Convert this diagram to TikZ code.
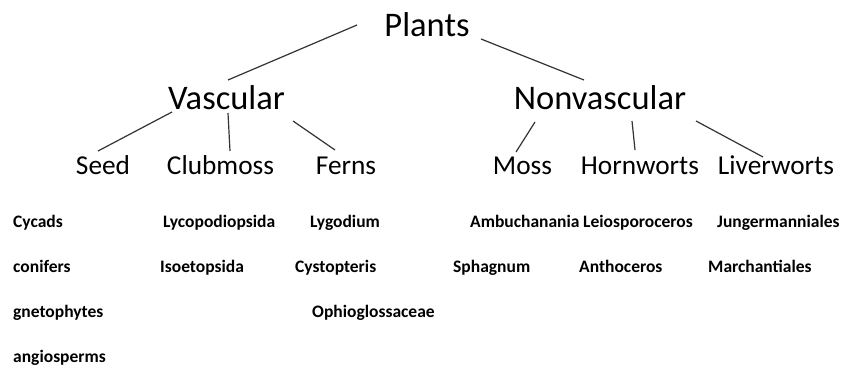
\documentclass[tikz,border=0pt]{standalone}
\usepackage{fontspec}
\setmainfont{Carlito}
\usetikzlibrary{calc}
\begin{document}
\begin{tikzpicture}[x=1pt,y=-1pt,
  h1/.style={anchor=base,inner sep=0pt,font=\fontsize{34.5}{40}\selectfont},
  h2/.style={anchor=base,inner sep=0pt,font=\fontsize{27.3}{32}\selectfont},
  leaf/.style={anchor=base west,inner sep=0pt,font=\bfseries\fontsize{17.5}{20}\selectfont},
  link/.style={draw=black!80,line width=1.2pt}]
\useasboundingbox[fill=white] (0,0) rectangle (842,371);
\node[h1] (plants) at (427,37) {Plants};
\node[h1] (vasc) at (226.5,110) {Vascular};
\node[h1] (nonv) at (600,110) {Nonvascular};
\node[h2] (seed) at (103,175) {Seed};
\node[h2] (club) at (220.5,175) {Clubmoss};
\node[h2] (ferns) at (346,175) {Ferns};
\node[h2] (moss) at (522.5,175) {Moss};
\node[h2] (horn) at (640,175) {Hornworts};
\node[h2] (liver) at (776,175) {Liverworts};
\draw[link] ($(plants.base)+(-70,-12)$) -- ($(vasc.base)+(1.5,-30)$);
\draw[link] ($(plants.base)+(54,2)$) -- ($(nonv.base)+(-16,-30)$);
\draw[link] ($(vasc.base)+(-54.5,2)$) -- ($(seed.base)+(-5,-24)$);
\draw[link] ($(vasc.base)+(1.5,3)$) -- ($(club.base)+(9.5,-24)$);
\draw[link] ($(vasc.base)+(66.5,11)$) -- ($(ferns.base)+(-11,-25)$);
\draw[link] ($(nonv.base)+(-65,12)$) -- ($(moss.base)+(-6.5,-23)$);
\draw[link] ($(nonv.base)+(32,11)$) -- ($(horn.base)+(-5,-25)$);
\draw[link] ($(nonv.base)+(96,11)$) -- ($(liver.base)+(-13,-18)$);
\node[leaf] (cycads) at (13,228) {Cycads};
\node[leaf] (lyco) at (163,228) {Lycopodiopsida};
\node[leaf] (lygo) at (310,228) {Lygodium};
\node[leaf] (ambu) at (470,228) {Ambuchanania};
\node[leaf] (leio) at (583,228) {Leiosporoceros};
\node[leaf] (jung) at (717,228) {Jungermanniales};
\node[leaf] (coni) at (13,272.5) {conifers};
\node[leaf] (isoe) at (160,272.5) {Isoetopsida};
\node[leaf] (cyst) at (295,272.5) {Cystopteris};
\node[leaf] (spha) at (453,272.5) {Sphagnum};
\node[leaf] (anth) at (579,272.5) {Anthoceros};
\node[leaf] (marc) at (708,272.5) {Marchantiales};
\node[leaf] (gnet) at (13,317) {gnetophytes};
\node[leaf] (ophi) at (312,317) {Ophioglossaceae};
\node[leaf] (angi) at (13,362) {angiosperms};
\end{tikzpicture}
\end{document}
